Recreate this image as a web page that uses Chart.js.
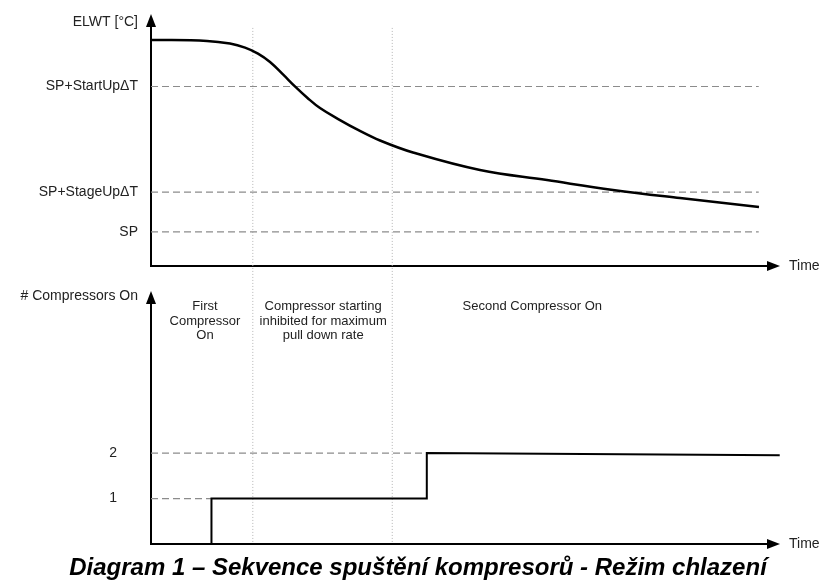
<!DOCTYPE html>
<html>
<head>
<meta charset="utf-8">
<script src="https://cdn.jsdelivr.net/npm/chart.js@4/dist/chart.umd.min.js"></script>
<style>
  body { margin: 0; background: #fff; overflow: hidden; }
  #wrap { position: relative; width: 824px; height: 580px; }
  canvas { position: absolute; left: 0; top: 0; }
</style>
</head>
<body>
<div id="wrap">
  <canvas id="tempChart" width="824" height="580"></canvas>
  <canvas id="compChart" width="824" height="580"></canvas>
</div>
<script>
// top panel: leaving water temperature
const elwtTime = [0, 9.08, 12.8, 15.24, 17.34, 19.29, 21.39, 23.5, 25.28, 27.39, 30.63, 33.55, 37.12, 42.46, 53.32, 64.18, 74.88, 85.74, 98.54]
const elwtValue = [9.42, 9.38, 9.27, 9.10, 8.85, 8.50, 7.98, 7.44, 7.02, 6.58, 6.08, 5.67, 5.23, 4.73, 4.00, 3.58, 3.17, 2.83, 2.46]
const levelNames = ['SP', 'SP+StageUpΔT', 'SP+StartUpΔT']
const levelValues = [1.42, 3.08, 7.48]
const levelEnd = 98.5

// phase boundaries (dotted verticals, shared by both panels)
const phaseBounds = [16.5, 39.1]

// bottom panel: number of compressors on
const stepTime = [9.8, 9.8, 44.7, 44.7, 101.9]
const compressorsOn = [0, 1, 1, 2, 1.95]
const countTicks = [1, 2]
const phaseText = [['First', 'Compressor', 'On'], ['Compressor starting', 'inhibited for maximum', 'pull down rate'], ['Second Compressor On']]
const phaseTextTime = [8.75, 27.9, 61.8]
const phaseTextLevel = 5.22

const title = 'Diagram 1 – Sekvence spuštění kompresorů - Režim chlazení'

Chart.defaults.font.family = '"Liberation Sans", Arial, sans-serif'
Chart.defaults.color = '#222'

const textColor = '#222'
const dashGrey = '#8c8c8c'

// arrow heads, axis titles and the "Time" label
const axisArrows = {
    id: 'axisArrows',
    afterDraw(chart, args, opts) {
        const {ctx, chartArea: a} = chart
        ctx.save()
        ctx.fillStyle = '#000'
        ctx.beginPath()
        ctx.moveTo(a.left - 5, a.top + 1)
        ctx.lineTo(a.left + 5, a.top + 1)
        ctx.lineTo(a.left, a.top - 12)
        ctx.closePath()
        ctx.fill()
        ctx.beginPath()
        ctx.moveTo(a.right - 1, a.bottom - 5)
        ctx.lineTo(a.right - 1, a.bottom + 5)
        ctx.lineTo(a.right + 12, a.bottom)
        ctx.closePath()
        ctx.fill()
        ctx.fillStyle = textColor
        ctx.font = '14px "Liberation Sans", Arial, sans-serif'
        ctx.textBaseline = 'middle'
        ctx.textAlign = 'left'
        ctx.fillText('Time', a.right + 21, a.bottom)
        ctx.textAlign = 'right'
        ctx.fillText(opts.yTitle, a.left - 13, a.top + opts.yTitleShift)
        ctx.restore()
    }
}

// phase descriptions in the bottom panel + caption under the diagram
const phaseLabels = {
    id: 'phaseLabels',
    afterDraw(chart) {
        const {ctx, scales} = chart
        ctx.save()
        ctx.fillStyle = textColor
        ctx.font = '13px "Liberation Sans", Arial, sans-serif'
        ctx.textAlign = 'center'
        ctx.textBaseline = 'middle'
        phaseText.forEach((lines, i) => {
            const x = scales.x.getPixelForValue(phaseTextTime[i])
            const y = scales.y.getPixelForValue(phaseTextLevel)
            lines.forEach((line, j) => ctx.fillText(line, x, y + j * 14.5))
        })
        ctx.fillStyle = '#000'
        ctx.font = 'italic bold 24px "Liberation Sans", Arial, sans-serif'
        ctx.fillText(title, 418, 568)
        ctx.restore()
    }
}

const pts = (xs, ys) => xs.map((x, i) => ({x: x, y: ys[i]}))

const xScale = {
    type: 'linear',
    min: 0,
    max: 100,
    ticks: {display: false},
    grid: {display: false, drawTicks: false},
    border: {display: true, color: '#000', width: 2},
    afterFit: s => { s.height = 0 }
}

const dashed = {borderColor: dashGrey, borderWidth: 1.2, borderDash: [7, 4], pointRadius: 0, fill: false}
const dotted = {borderColor: '#b5b5b5', borderWidth: 1, borderDash: [1, 2], pointRadius: 0, fill: false, clip: false}

const tempDatasets = [{
    data: pts(elwtTime, elwtValue),
    borderColor: '#000',
    borderWidth: 2.5,
    pointRadius: 0,
    tension: 0.4,
    fill: false
}]
levelValues.forEach(v => tempDatasets.push({...dashed, data: pts([0, levelEnd], [v, v])}))
phaseBounds.forEach(t => tempDatasets.push({...dotted, data: pts([t, t], [9.92, -11.58])}))

new Chart(document.getElementById('tempChart'), {
    type: 'line',
    data: {datasets: tempDatasets},
    options: {
        responsive: false,
        animation: false,
        devicePixelRatio: 1,
        layout: {padding: {top: 26, right: 56, bottom: 314, left: 0}},
        scales: {
            x: xScale,
            y: {
                type: 'linear',
                min: 0,
                max: 10,
                afterBuildTicks: s => { s.ticks = levelValues.map(v => ({value: v})) },
                afterFit: s => { s.width = 151 },
                ticks: {
                    padding: 13,
                    font: {size: 14},
                    color: textColor,
                    callback: (v, i) => levelNames[i]
                },
                grid: {display: false, drawTicks: false},
                border: {display: true, color: '#000', width: 2}
            }
        },
        plugins: {
            legend: {display: false},
            tooltip: {enabled: false},
            axisArrows: {yTitle: 'ELWT [°C]', yTitleShift: -4}
        }
    },
    plugins: [axisArrows]
})

const compDatasets = [{
    data: pts(stepTime, compressorsOn),
    borderColor: '#000',
    borderWidth: 2,
    pointRadius: 0,
    fill: false,
    clip: false
}]
compDatasets.push({...dashed, data: pts([0, stepTime[0]], [1, 1])})
compDatasets.push({...dashed, data: pts([0, stepTime[2]], [2, 2])})

new Chart(document.getElementById('compChart'), {
    type: 'line',
    data: {datasets: compDatasets},
    options: {
        responsive: false,
        animation: false,
        devicePixelRatio: 1,
        layout: {padding: {top: 303, right: 56, bottom: 36, left: 0}},
        scales: {
            x: xScale,
            y: {
                type: 'linear',
                min: 0,
                max: 5.3,
                afterBuildTicks: s => { s.ticks = countTicks.map(v => ({value: v})) },
                afterFit: s => { s.width = 151 },
                ticks: {
                    padding: 34,
                    // small lineHeight keeps the label padding from pushing the plot area up
                    font: {size: 14, lineHeight: 0.2},
                    color: textColor
                },
                grid: {display: false, drawTicks: false},
                border: {display: true, color: '#000', width: 2}
            }
        },
        plugins: {
            legend: {display: false},
            tooltip: {enabled: false},
            title: {display: false},
            axisArrows: {yTitle: '# Compressors On', yTitleShift: -7}
        }
    },
    plugins: [axisArrows, phaseLabels]
})
</script>
</body>
</html>
